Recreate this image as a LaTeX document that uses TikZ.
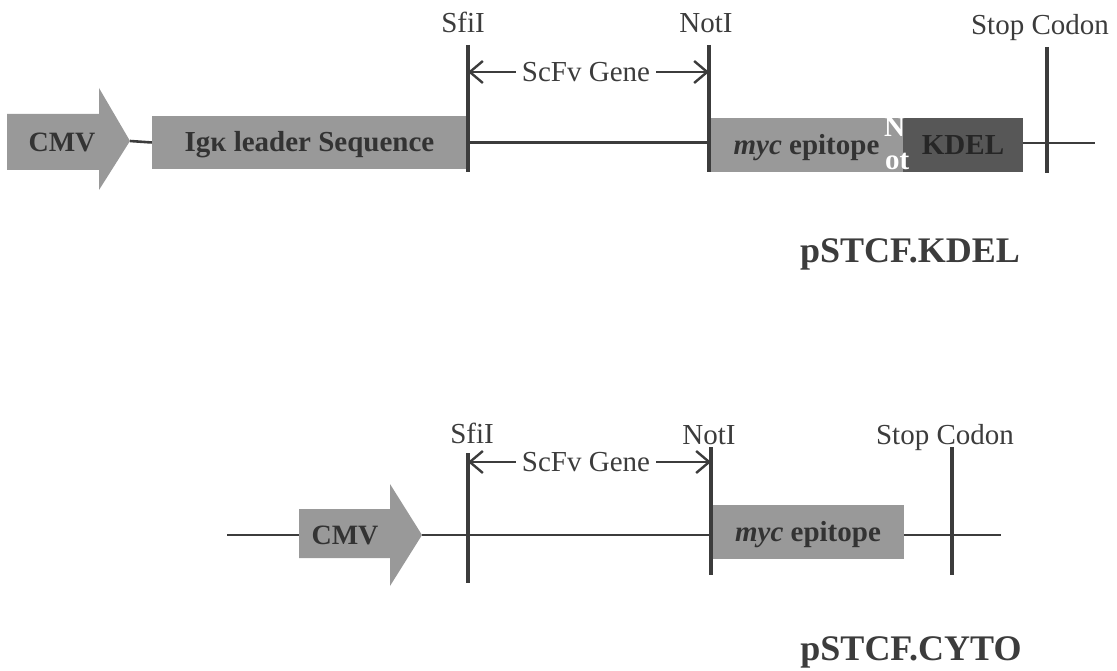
\documentclass[tikz,border=0pt]{standalone}
\usepackage{fontspec}
\setmainfont{Liberation Serif}
\usetikzlibrary{arrows.meta}
\definecolor{ink}{HTML}{3C3C3C}
\definecolor{boxgray}{HTML}{999999}
\definecolor{kdelgray}{HTML}{575757}
\definecolor{txtdark}{HTML}{333333}
\tikzset{
  backbone/.style={draw=ink,line width=2.6pt},
  site/.style={draw=ink,line width=3.6pt},
  feature/.style={fill=boxgray,draw=none,inner sep=0pt,text=txtdark,
    font=\bfseries\fontsize{29}{29}\selectfont,text height=19pt,text depth=0pt},
  cmvlabel/.style={inner sep=0pt,text=txtdark,
    font=\bfseries\fontsize{28}{28}\selectfont,text height=19pt,text depth=0pt},
  sitelabel/.style={inner sep=0pt,text=ink,anchor=base,font=\fontsize{29}{29}\selectfont},
  spanlabel/.style={inner sep=0pt,text=ink,font=\fontsize{29}{29}\selectfont},
  span/.style={draw=ink,line width=2.4pt,-{Straight Barb[length=13pt,width=22pt]}},
  title/.style={inner sep=0pt,text=ink,anchor=base,font=\bfseries\fontsize{36}{36}\selectfont},
  glitch/.style={inner sep=0pt,text=white,anchor=base west,font=\bfseries\fontsize{29}{29}\selectfont}
}
\begin{document}
\begin{tikzpicture}[x=1pt,y=-1pt]
\useasboundingbox (0,0) rectangle (1117,671);

% ---------------- pSTCF.KDEL ----------------
% promoter arrow
\fill[boxgray] (7,114) -- (99,114) -- (99,88) -- (130,141) -- (99,190) -- (99,170) -- (7,170) -- cycle;
\coordinate (cmvAtip) at (130,141);
\node[cmvlabel] (cmvA) at (62,142) {CMV};

% feature boxes
\node[feature,minimum width=315pt,minimum height=53pt] (leader) at (309.5,142.5) {Igκ leader Sequence};
\node[feature,minimum width=193pt,minimum height=54pt] (mycA) at (806.5,145) {\textit{myc} epitope};
\node[feature,fill=kdelgray,text=black!85,minimum width=120pt,minimum height=54pt] (kdel) at (963,145) {KDEL};
\coordinate (endA) at (1095,143);

% backbone
\draw[backbone] (cmvAtip) -- (leader.west);
\draw[backbone] (leader.east) -- (mycA.west |- leader.east);
\draw[backbone] (kdel.east |- endA) -- (endA);

% restriction sites and stop codon
\coordinate (sfiAtop) at (468,45);  \coordinate (sfiAbot) at (468,172);
\coordinate (notAtop) at (709,45);  \coordinate (notAbot) at (709,172);
\coordinate (stpAtop) at (1047,47); \coordinate (stpAbot) at (1047,173);
\draw[site] (sfiAtop) -- (sfiAbot);
\draw[site] (notAtop) -- (notAbot);
\draw[site] (stpAtop) -- (stpAbot);
\node[sitelabel] (sfiA) at (463,33) {SfiI};
\node[sitelabel] (notA) at (706,33) {NotI};
\node[sitelabel] (stpA) at (1040,35) {Stop Codon};

% insert span
\node[spanlabel] (scfvA) at (586,72) {ScFv Gene};
\draw[span] ([xshift=-6pt]scfvA.west) -- (sfiAtop |- scfvA.west);
\draw[span] ([xshift=6pt]scfvA.east) -- (notAtop |- scfvA.east);

% stray lettering between the tag boxes
\node[glitch] (glN) at (884,137) {N};
\node[glitch] (glot) at (885,170) {ot};

\node[title] (kdelTitle) at (910,262) {pSTCF.KDEL};

% ---------------- pSTCF.CYTO ----------------
\coordinate (startB) at (227,535);
\fill[boxgray] (299,509) -- (390,509) -- (390,484) -- (422,535) -- (390,586) -- (390,558) -- (299,558) -- cycle;
\coordinate (cmvBtail) at (299,535);
\coordinate (cmvBtip) at (422,535);
\node[cmvlabel] (cmvB) at (345,535) {CMV};

\node[feature,minimum width=192pt,minimum height=54pt] (mycB) at (808,532) {\textit{myc} epitope};
\coordinate (endB) at (1001,535);

\draw[backbone] (startB) -- (cmvBtail);
\draw[backbone] (cmvBtip) -- (mycB.west |- cmvBtip);
\draw[backbone] (mycB.east |- endB) -- (endB);

\coordinate (sfiBtop) at (468,453); \coordinate (sfiBbot) at (468,583);
\coordinate (notBtop) at (711,447); \coordinate (notBbot) at (711,575);
\coordinate (stpBtop) at (952,447); \coordinate (stpBbot) at (952,575);
\draw[site] (sfiBtop) -- (sfiBbot);
\draw[site] (notBtop) -- (notBbot);
\draw[site] (stpBtop) -- (stpBbot);
\node[sitelabel] (sfiB) at (472,443) {SfiI};
\node[sitelabel] (notB) at (709,444) {NotI};
\node[sitelabel] (stpB) at (945,444) {Stop Codon};

\node[spanlabel] (scfvB) at (586,462) {ScFv Gene};
\draw[span] ([xshift=-6pt]scfvB.west) -- (sfiBtop |- scfvB.west);
\draw[span] ([xshift=6pt]scfvB.east) -- (notBtop |- scfvB.east);

\node[title] (cytoTitle) at (911,660) {pSTCF.CYTO};
\end{tikzpicture}
\end{document}
